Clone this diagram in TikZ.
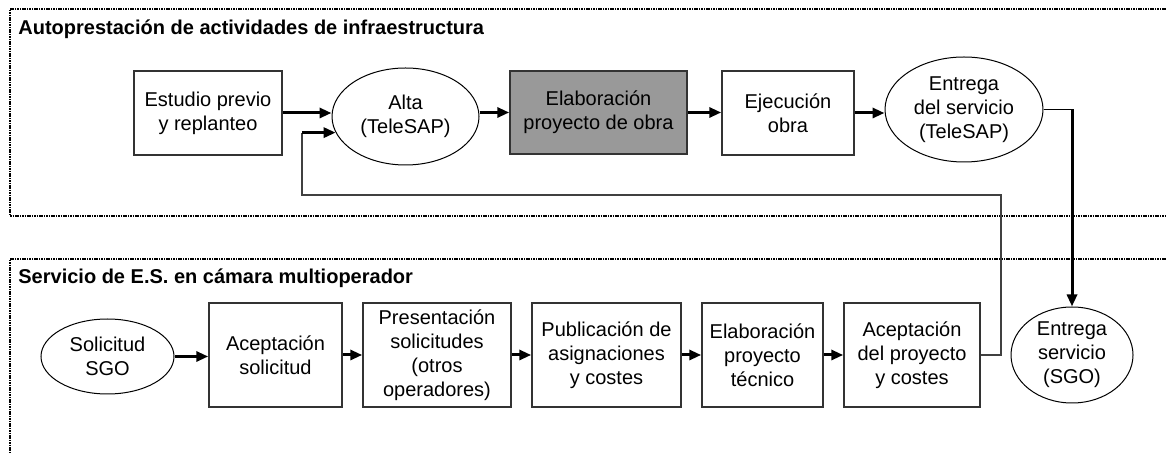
\documentclass[tikz,border=0pt]{standalone}
\usepackage{fontspec}
\setmainfont{Liberation Sans}
\usetikzlibrary{positioning}
\usetikzlibrary{calc}
\usetikzlibrary{arrows.meta}
\usetikzlibrary{shapes.geometric}

\begin{document}
\begin{tikzpicture}[x=0.5pt, y=-0.5pt,
        PROC/.style={rectangle, draw=black!80, line width=0.75pt, inner sep=0pt, minimum height=42pt, align=center, font=\fontsize{10}{12}\selectfont},
        EVT/.style={ellipse, draw=black, line width=0.5pt, inner sep=0pt, align=center, font=\fontsize{10}{12}\selectfont},
        ARR/.style={-{Triangle[length=6pt,width=5pt]}, line width=1.5pt},
        RET/.style={draw=black!75, line width=0.75pt},
        ZONE/.style={line width=1.1pt, dash pattern=on 0.8pt off 0.4pt},
        TIT/.style={anchor=base west, inner sep=0pt, font=\bfseries\fontsize{10}{12}\selectfont},
        ]
            \useasboundingbox (0,0) rectangle (1166,453);

            \draw[ZONE] (1166,9) -- (10,9) -- (10,216) -- (1166,216);
            \draw[ZONE] (1166,259) -- (10,259) -- (10,453);
            \node[TIT] (T1) at (18,35) {Autoprestación de actividades de infraestructura};
            \node[TIT] (T2) at (18,284) {Servicio de E.S. en cámara multioperador};

            % infraestructura
            \node[PROC, minimum width=74pt] (A1) at (208,113) {Estudio previo\\y replanteo};
            \node[EVT, minimum width=73.5pt, minimum height=48.5pt] (A2) at (405.5,116.5) {Alta\\(TeleSAP)};
            \node[PROC, fill=black!40, minimum width=88.5pt, minimum height=41.5pt] (A3) at (598.5,112.5) {Elaboración\\proyecto de obra};
            \node[PROC, minimum width=66pt] (A4) at (788,113) {Ejecución\\obra};
            \node[EVT, minimum width=79pt, minimum height=52.5pt] (A5) at (964,109.5) {Entrega\\del servicio\\(TeleSAP)};

            % camara multioperador
            \node[EVT, minimum width=66.5pt, minimum height=37.5pt] (B0) at (107.5,356.5) {Solicitud\\SGO};
            \node[PROC, minimum width=66.5pt, minimum height=52pt] (B1) at (275.5,355) {Aceptación\\solicitud};
            \node[PROC, minimum width=74pt, minimum height=52pt] (B2) at (437,355) {Presentación\\solicitudes\\(otros\\operadores)};
            \node[PROC, minimum width=74.5pt, minimum height=52pt] (B3) at (606.5,355) {Publicación de\\asignaciones\\y costes};
            \node[PROC, minimum width=60.5pt, minimum height=52pt] (B4) at (762.5,355) {Elaboración\\proyecto\\técnico};
            \node[PROC, minimum width=68pt, minimum height=52pt] (B5) at (912,355) {Aceptación\\del proyecto\\y costes};
            \node[EVT, minimum width=61pt, minimum height=48pt] (B6) at (1072,355) {Entrega\\servicio\\(SGO)};

            \draw[ARR] (A1.east) -- (A1.east -| A2.west);
            \draw[ARR] (A2.east |- A3.west) -- (A3.west);
            \draw[ARR] (A3.east) -- (A3.east -| A4.west);
            \draw[ARR] (A4.east) -- (A4.east -| A5.west);

            \draw[ARR] (B0.east) -- (B0.east -| B1.west);
            \foreach \a/\b in {B1/B2, B2/B3, B3/B4, B4/B5}
                \draw[ARR] (\a) -- (\b);

            % vuelta a Alta
            \coordinate (R1) at (1001,195);
            \coordinate (R2) at (302,195);
            \draw[RET] (B5.east) -| (R1) -- (R2) -- (R2 |- A2.193);
            \draw[ARR] (R2 |- A2.193) -- (A2.193);

            \coordinate (E1) at (A5.east -| B6.north);
            \draw[RET, draw=black] (A5.east) -- (E1);
            \draw[ARR] (E1) -- (B6.north);
        \end{tikzpicture}
\end{document}
